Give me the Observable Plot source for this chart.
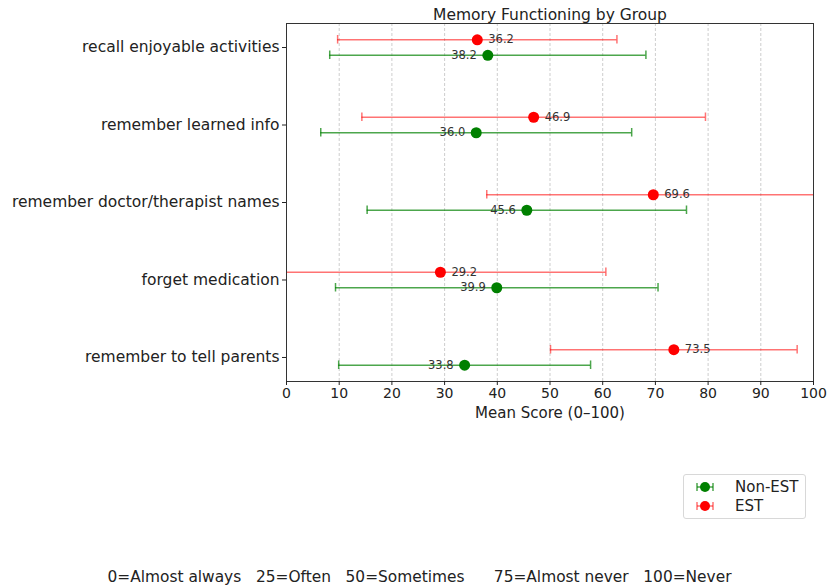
<!DOCTYPE html>
<html>
<head>
<meta charset="utf-8">
<script src="https://cdn.jsdelivr.net/npm/d3@7"></script>
<script src="https://cdn.jsdelivr.net/npm/@observablehq/plot@0.6"></script>
<style>
  html, body { margin: 0; padding: 0; background: #fff; }
  #wrap { position: relative; width: 829px; height: 587px; font-family: "DejaVu Sans", sans-serif; color: #222; }
  #chart { position: absolute; left: 0; top: 0; }
  #legend { position: absolute; left: 683px; top: 474px; width: 123px; height: 45px; border: 1px solid #d8d8d8; border-radius: 3px; box-sizing: border-box; font-size: 15px; }
  #legend .row { position: absolute; left: 12px; height: 19px; display: flex; align-items: center; }
  #legend .row span { margin-left: 21px; }
  #note { position: absolute; left: 0; width: 839px; top: 568px; text-align: center; font-size: 15.4px; line-height: 19px; white-space: pre; }
</style>
</head>
<body>
<div id="wrap">
  <div id="chart"></div>
  <div id="legend"></div>
  <div id="note"></div>
</div>
<script>
// Survey items, top to bottom
const categories = [
  "recall enjoyable activities",
  "remember learned info",
  "remember doctor/therapist names",
  "forget medication",
  "remember to tell parents"
];
// Group means and standard deviations (0–100 scale)
const estMean = [36.2, 46.9, 69.6, 29.2, 73.5];
const estSD = [26.5, 32.6, 31.6, 31.4, 23.4];
const nonEstMean = [38.2, 36.0, 45.6, 39.9, 33.8];
const nonEstSD = [30.0, 29.5, 30.3, 30.6, 23.9];
const xTicks = [0, 10, 20, 30, 40, 50, 60, 70, 80, 90, 100];
const scaleNote = "0=Almost always   25=Often   50=Sometimes      75=Almost never   100=Never";

const groups = [
  {name: "Non-EST", mean: nonEstMean, sd: nonEstSD, offset: 0.1, color: "green", barOpacity: 0.7, side: "left"},
  {name: "EST", mean: estMean, sd: estSD, offset: -0.1, color: "red", barOpacity: 0.55, side: "right"}
];

const rows = groups.flatMap(g => categories.map((c, i) => ({
  group: g.name,
  color: g.color,
  barOpacity: g.barOpacity,
  side: g.side,
  mean: g.mean[i],
  lo: g.mean[i] - g.sd[i],
  hi: g.mean[i] + g.sd[i],
  pos: i + g.offset
})));

const capHalf = 0.055;
const font = "DejaVu Sans, sans-serif";

const chart = Plot.plot({
  width: 829,
  height: 425,
  marginTop: 23,
  marginLeft: 286,
  marginRight: 16,
  marginBottom: 44,
  style: {fontFamily: font, fontSize: "14px", color: "#222", background: "white"},
  x: {domain: [0, 100]},
  y: {domain: [4.31, -0.31]},
  marks: [
    Plot.gridX(xTicks.slice(1, -1), {stroke: "#b0b0b0", strokeOpacity: 0.8, strokeDasharray: "3,2", strokeWidth: 0.8}),
    // error bars with caps
    Plot.ruleY(rows, {y: "pos", x1: "lo", x2: "hi", stroke: "color", strokeOpacity: "barOpacity", strokeWidth: 1.5, clip: true}),
    Plot.ruleX(rows, {x: "lo", y1: d => d.pos - capHalf, y2: d => d.pos + capHalf, stroke: "color", strokeOpacity: "barOpacity", strokeWidth: 1.5, clip: true}),
    Plot.ruleX(rows, {x: "hi", y1: d => d.pos - capHalf, y2: d => d.pos + capHalf, stroke: "color", strokeOpacity: "barOpacity", strokeWidth: 1.5, clip: true}),
    // group means with value labels
    Plot.dot(rows, {x: "mean", y: "pos", r: 5.5, fill: "color", stroke: "none"}),
    Plot.text(rows.filter(d => d.side === "right"), {x: "mean", y: "pos", text: d => d.mean.toFixed(1), dx: 11, textAnchor: "start", fontSize: 11.5, fill: "#333"}),
    Plot.text(rows.filter(d => d.side === "left"), {x: "mean", y: "pos", text: d => d.mean.toFixed(1), dx: -11, textAnchor: "end", fontSize: 11.5, fill: "#333"}),
    Plot.frame({stroke: "#333", strokeWidth: 1}),
    Plot.axisY(d3.range(categories.length), {tickFormat: i => categories[i], tickSize: 4, tickPadding: 3, fontSize: 15.5, label: null}),
    Plot.axisX(xTicks, {tickSize: 4, tickPadding: 3, fontSize: 14, label: "Mean Score (0–100)", labelAnchor: "center", labelArrow: "none", labelOffset: 36}),
    Plot.text(["Memory Functioning by Group"], {frameAnchor: "top", lineAnchor: "bottom", dy: -4, fontSize: 15.5, fill: "#222"})
  ]
});
// the axis label uses a slightly larger size than the tick labels
chart.querySelectorAll("g[aria-label='x-axis label'] text").forEach(t => t.setAttribute("font-size", 15));
document.getElementById("chart").appendChild(chart);

// legend: one row per group, markers drawn as small error-bar glyphs
const legend = document.getElementById("legend");
groups.forEach((g, k) => {
  const row = document.createElement("div");
  row.className = "row";
  row.style.top = (2 + k * 19) + "px";
  row.innerHTML = `<svg width="18" height="12" viewBox="0 0 18 12">
      <line x1="1" x2="17" y1="6" y2="6" stroke="${g.color}" stroke-opacity="${g.barOpacity}" stroke-width="1.5"/>
      <line x1="1" x2="1" y1="2" y2="10" stroke="${g.color}" stroke-opacity="${g.barOpacity}" stroke-width="1.5"/>
      <line x1="17" x2="17" y1="2" y2="10" stroke="${g.color}" stroke-opacity="${g.barOpacity}" stroke-width="1.5"/>
      <circle cx="9" cy="6" r="5" fill="${g.color}"/></svg><span>${g.name}</span>`;
  legend.appendChild(row);
});
document.getElementById("note").textContent = scaleNote;
</script>
</body>
</html>
